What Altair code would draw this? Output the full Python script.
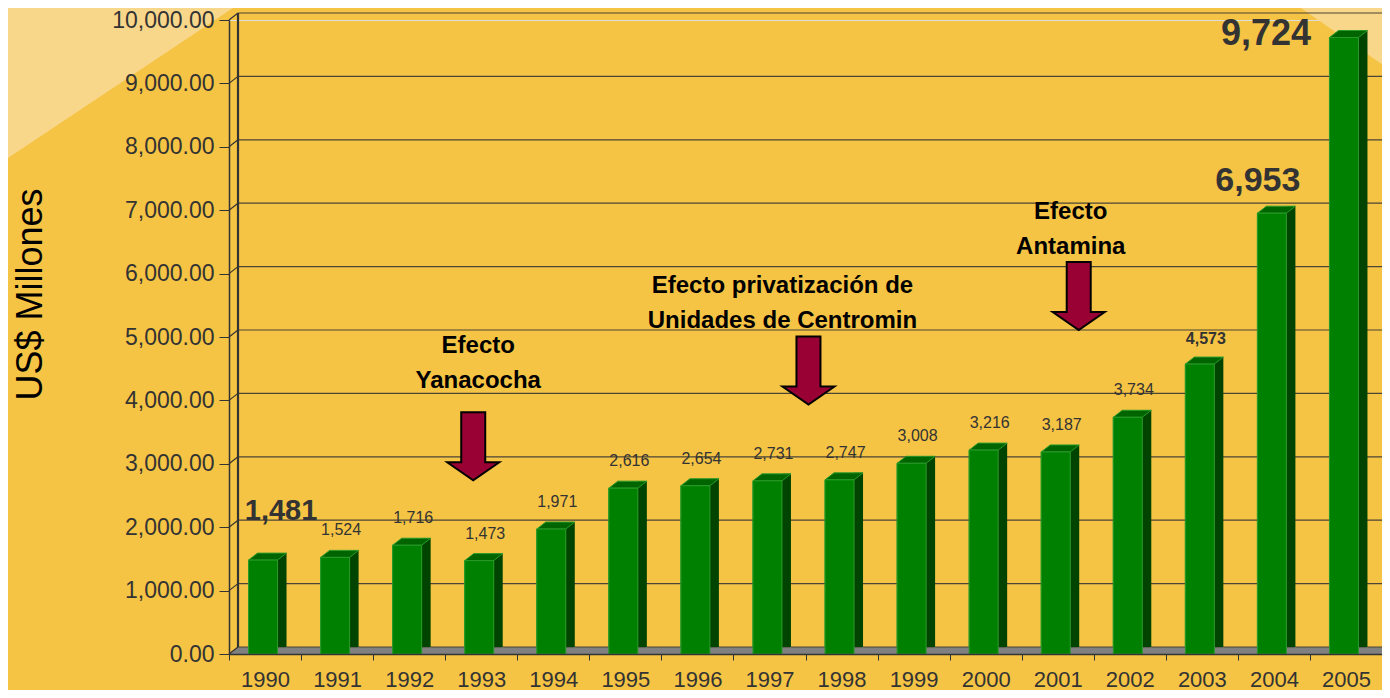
import altair as alt
import pandas as pd

# ---------------- data ----------------
years = ["1990", "1991", "1992", "1993", "1994", "1995", "1996", "1997",
         "1998", "1999", "2000", "2001", "2002", "2003", "2004", "2005"]
values = [1481, 1524, 1716, 1473, 1971, 2616, 2654, 2731,
          2747, 3008, 3216, 3187, 3734, 4573, 6953, 9724]
y_ticks = [0, 1000, 2000, 3000, 4000, 5000, 6000, 7000, 8000, 9000, 10000]

small_label_years = years[1:13]

ann_years = ["1993", "1997", "2001"]
ann_texts = ["Efecto\nYanacocha", "Efecto privatización de\nUnidades de Centromin", "Efecto\nAntamina"]
ann_text_values = [4750, 5690, 6865]
ann_arrow_values = [2740, 3935, 5110]

# ---------------- geometry / style ----------------
W, H = 1153, 634
DEPTH_X, DEPTH_Y = 9, 7
FONT = "Liberation Sans"
BG = "#F6C444"
LIGHT = "#F9D78A"
TXT = "#333333"

df = pd.DataFrame({"year": years, "value": values})
df["zero"] = 0
grid_df = pd.DataFrame({"v": y_ticks})
wall_df = pd.DataFrame({"lo": [y_ticks[0]], "hi": [y_ticks[-1]]})

x_scale = alt.Scale(domain=years, paddingInner=0, paddingOuter=0)
y_scale = alt.Scale(domain=[0, 10000], nice=False, zero=True)

X = alt.X("year:N", scale=x_scale,
          axis=alt.Axis(title=None, labelAngle=0, tickBand="extent", tickSize=6,
                        labelPadding=9, labelFontSize=22, labelColor=TXT, labelFont=FONT,
                        domainColor=TXT, tickColor=TXT, domainWidth=1.5, zindex=1))
Y_AXIS = alt.Axis(values=y_ticks, format=",.2f", grid=False, tickSize=10,
                  labelPadding=5, labelFontSize=23, labelColor=TXT, labelFont=FONT,
                  domainColor=TXT, tickColor=TXT, domainWidth=1.5, zindex=1,
                  title="US$ Millones", titleFontSize=36, titleFontWeight="normal",
                  titleColor="black", titleFont=FONT, titleX=-199, titleY=274,
                  titleAngle=-90, titleAlign="center", titleBaseline="middle")
Y = alt.Y("value:Q", scale=y_scale, axis=Y_AXIS)


def yq(field):
    return alt.Y(field, scale=y_scale, axis=Y_AXIS)


# light decorative wedges of the slide background
wedge_left = alt.Chart(wall_df).mark_point(
    shape="M-221,-12 L4,-12 L-221,138 Z", size=4, filled=True, fill=LIGHT,
    strokeWidth=0, opacity=1
).encode(x=alt.value(0), y=alt.value(0))
wedge_right = alt.Chart(wall_df).mark_point(
    shape="M1072,-12 L1170,-12 L1170,56 Z", size=4, filled=True, fill=LIGHT,
    strokeWidth=0, opacity=1
).encode(x=alt.value(0), y=alt.value(0))

# floor (gray parallelogram)
floor = alt.Chart(wall_df).mark_point(
    shape=f"M0,0 L{W},0 L{W + DEPTH_X},-{DEPTH_Y} L{DEPTH_X},-{DEPTH_Y} Z",
    size=4, filled=True, fill="#808080", strokeWidth=0, opacity=1
).encode(x=alt.value(0), y=yq("lo:Q"))

# back-wall grid lines
grid = alt.Chart(grid_df).mark_rule(color="#4a4536", strokeWidth=1.2, yOffset=-DEPTH_Y).encode(
    y=yq("v:Q"), x=alt.value(DEPTH_X), x2=alt.value(W + 10))

# diagonal connectors from front axis to back wall
conn = alt.Chart(grid_df).mark_rule(color=TXT, strokeWidth=1.2, y2Offset=-DEPTH_Y).encode(
    y=yq("v:Q"), y2=alt.Y2("v:Q"), x=alt.value(0), x2=alt.value(DEPTH_X))

# back wall vertical line
wall = alt.Chart(wall_df).mark_rule(color=TXT, strokeWidth=2.2, yOffset=-DEPTH_Y, y2Offset=-DEPTH_Y).encode(
    x=alt.value(DEPTH_X), y=yq("hi:Q"), y2=alt.Y2("lo:Q"))

base = alt.Chart(df).encode(x=X, y=Y)

side = base.mark_bar(size=9, xOffset=17, yOffset=-DEPTH_Y, color="#004400")
floor_fix = alt.Chart(df).mark_point(
    shape="M14.5,0 L23.5,-7 L23.5,0 Z", size=4, filled=True, fill="#808080",
    strokeWidth=0, opacity=1, xOffset=-2
).encode(x=X, y=yq("zero:Q"))
top = base.mark_point(
    shape="M-14.5,0 L14.5,0 L23.5,-7 L-5.5,-7 Z", size=4, filled=True, fill="#006400",
    stroke="#2a9a2a", strokeWidth=1, opacity=1, xOffset=-2)
front = base.mark_bar(size=29, xOffset=-2, color="#008000", stroke="#2a9a2a", strokeWidth=1)

# value labels
small_lbl = alt.Chart(df[df["year"].isin(small_label_years)]).mark_text(
    fontSize=16, color=TXT, font=FONT, dx=4, dy=-22, baseline="alphabetic"
).encode(x=X, y=Y, text=alt.Text("value:Q", format=","))

lbl_2003 = alt.Chart(df[df["year"] == "2003"]).mark_text(
    fontSize=16, fontWeight="bold", color=TXT, font=FONT, dx=4, dy=-20, baseline="alphabetic"
).encode(x=X, y=Y, text=alt.Text("value:Q", format=","))

lbl_1990 = alt.Chart(df[df["year"] == "1990"]).mark_text(
    fontSize=29, fontWeight="bold", color=TXT, font=FONT, dx=16, dy=-40, baseline="alphabetic"
).encode(x=X, y=Y, text=alt.Text("value:Q", format=","))

lbl_2004 = alt.Chart(df[df["year"] == "2004"]).mark_text(
    fontSize=34, fontWeight="bold", color=TXT, font=FONT, dx=-16, dy=-22, baseline="alphabetic"
).encode(x=X, y=Y, text=alt.Text("value:Q", format=","))

lbl_2005 = alt.Chart(df[df["year"] == "2005"]).mark_text(
    fontSize=36, fontWeight="bold", color=TXT, font=FONT, dx=-80, dy=8, baseline="alphabetic"
).encode(x=X, y=Y, text=alt.Text("value:Q", format=","))

# annotations
ARROW = "M-12,-68 L12,-68 L12,-18 L26,-18 L0,0 L-26,-18 L-12,-18 Z"
text_dx = [-3, 13, 13]
arrow_dx = [-8, 39, 21]
ann_layers = []
for yr, txt, tv, av, tdx, adx in zip(ann_years, ann_texts, ann_text_values,
                                      ann_arrow_values, text_dx, arrow_dx):
    tdf = pd.DataFrame({"year": [yr], "value": [tv], "text": [txt]})
    adf = pd.DataFrame({"year": [yr], "value": [av]})
    ann_layers.append(
        alt.Chart(tdf).mark_text(fontSize=24, fontWeight="bold", color="black", font=FONT,
                                 lineBreak="\n", lineHeight=35, align="center",
                                 baseline="alphabetic", dx=tdx)
        .encode(x=X, y=Y, text="text:N"))
    ann_layers.append(
        alt.Chart(adf).mark_point(shape=ARROW, size=4, filled=True, fill="#990033",
                                  stroke="black", strokeWidth=2, opacity=1, xOffset=adx)
        .encode(x=X, y=Y))

chart = alt.layer(
    front, wedge_left, wedge_right, floor, grid, conn, wall, side, floor_fix, top, front,
    small_lbl, lbl_2003, lbl_1990, lbl_2004, lbl_2005, *ann_layers
).properties(
    width=W, height=H,
    padding={"left": 221, "top": 12, "right": 0, "bottom": 36},
    autosize=alt.AutoSizeParams(type="none"),
    background=BG,
).configure_view(strokeWidth=0, stroke="transparent").configure(font=FONT)

chart.save("out.html", embed_options={"renderer": "svg", "actions": False})
